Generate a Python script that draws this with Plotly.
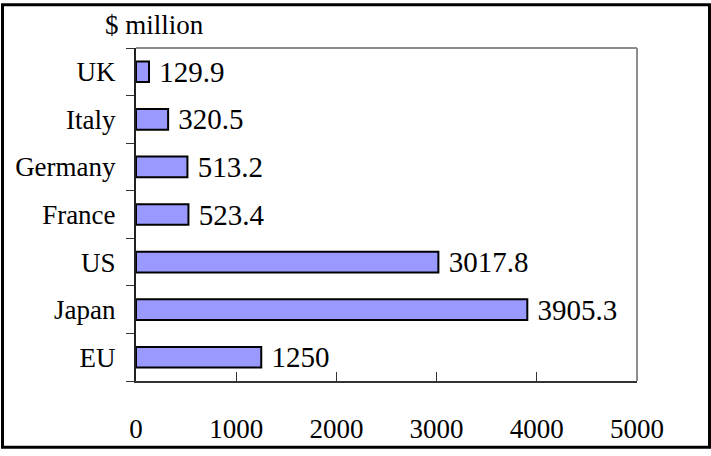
import plotly.graph_objects as go

categories = ["EU", "Japan", "US", "France", "Germany", "Italy", "UK"]
values = [1250, 3905.3, 3017.8, 523.4, 513.2, 320.5, 129.9]
value_labels = ["1250", "3905.3", "3017.8", "523.4", "513.2", "320.5", "129.9"]
x_ticks = [0, 1000, 2000, 3000, 4000, 5000]
unit_label = "$ million"

FONT = "Liberation Serif"
FS = 27
FS_LBL = 29

W, H = 711, 456
L, R, T, B = 136, 74, 48, 69
pw, ph = W - L - R, H - T - B

fig = go.Figure(go.Bar(
    y=categories, x=values, orientation="h",
    text=[" " + s for s in value_labels], textposition="outside",
    textfont=dict(family=FONT, size=FS_LBL, color="black"),
    constraintext="none",
    cliponaxis=False,
    marker=dict(color="#9999FF", line=dict(color="black", width=2)),
))

def px_x(x):
    return (x - L) / pw

def px_y(y):
    return (H - B - y) / ph

fig.update_layout(
    width=W, height=H, margin=dict(l=L, r=R, t=T, b=B),
    paper_bgcolor="white", plot_bgcolor="white",
    bargap=0.566, showlegend=False,
    font=dict(family=FONT, size=FS, color="black"),
    uniformtext=dict(mode=False),
    xaxis=dict(range=[0, 5000], tickvals=x_ticks, ticks="inside", ticklen=9,
               tickwidth=1, tickcolor="#333", showgrid=False, zeroline=False,
               showline=True, linecolor="#333", linewidth=2,
               ticklabelstandoff=23,
               tickfont=dict(family=FONT, size=FS, color="black")),
    yaxis=dict(categoryorder="array", categoryarray=categories,
               tickson="boundaries", ticks="outside", ticklen=8, tickwidth=1,
               tickcolor="#333", showgrid=False, zeroline=False,
               showline=True, linecolor="#222", linewidth=2,
               ticklabelstandoff=13,
               tickfont=dict(family=FONT, size=FS, color="black")),
    shapes=[
        dict(type="line", xref="paper", yref="paper", x0=0, x1=1, y0=1, y1=1,
             line=dict(color="#8c8c8c", width=2)),
        dict(type="line", xref="paper", yref="paper", x0=1, x1=1, y0=0, y1=1,
             line=dict(color="#8c8c8c", width=2)),
        dict(type="rect", xref="paper", yref="paper",
             x0=px_x(2.5), x1=px_x(709.5), y0=px_y(454.5), y1=px_y(4),
             line=dict(color="black", width=3)),
    ],
    annotations=[
        dict(text=unit_label, xref="paper", yref="paper",
             x=px_x(154.5), y=px_y(25), xanchor="center", yanchor="middle",
             showarrow=False, font=dict(family=FONT, size=FS, color="black")),
    ],
)

fig.write_html("out.html")
